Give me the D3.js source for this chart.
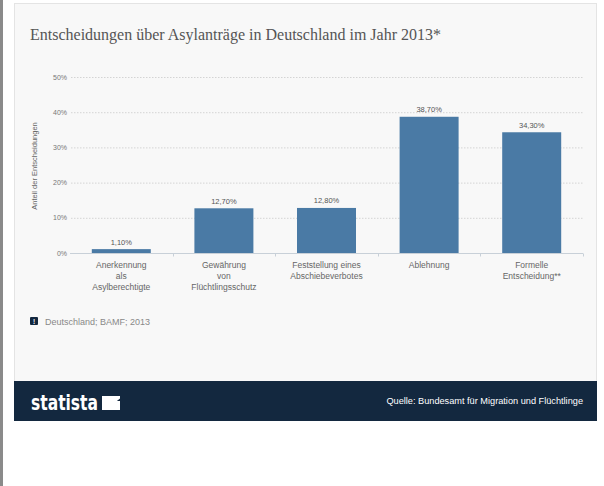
<!DOCTYPE html>
<html>
<head>
<meta charset="utf-8">
<script src="https://cdn.jsdelivr.net/npm/d3@7"></script>
<style>
  body { margin: 0; background: #fff; }
  svg { display: block; }
</style>
</head>
<body>
<div id="vis"></div>
<script>
var categories = [
  ["Anerkennung", "als", "Asylberechtigte"],
  ["Gewährung", "von", "Flüchtlingsschutz"],
  ["Feststellung eines", "Abschiebeverbotes"],
  ["Ablehnung"],
  ["Formelle", "Entscheidung**"]
];
var values = [1.10, 12.70, 12.80, 38.70, 34.30];
var y_ticks = [0, 10, 20, 30, 40, 50];

var title = "Entscheidungen über Asylanträge in Deutschland im Jahr 2013*";
var y_label = "Anteil der Entscheidungen";
var legend_text = "Deutschland; BAMF; 2013";
var source_text = "Quelle: Bundesamt für Migration und Flüchtlinge";

var bar_color = "#4a7aa5";
var navy = "#13283f";

var width = 604, height = 486;

var svg = d3.select('#vis')
    .append('svg')
    .attr('width', width)
    .attr('height', height);

// left grey line
svg.append('rect')
    .attr('x', 0).attr('y', 0)
    .attr('width', 3).attr('height', height)
    .attr('fill', '#8a8a8a');

// card
svg.append('rect')
    .attr('x', 14.5).attr('y', 3.5)
    .attr('width', 582).attr('height', 417)
    .attr('fill', '#f8f8f8')
    .attr('stroke', '#e4e4e4');

svg.append('text')
    .attr('x', 30).attr('y', 40)
    .style('font-family', '"Liberation Serif", serif')
    .style('font-size', '16px')
    .style('fill', '#555')
    .text(title);

var x_scale = d3.scaleBand()
    .domain(d3.range(values.length))
    .range([70, 583])
    .paddingInner(0.425)
    .paddingOuter(0.2125);

var y_scale = d3.scaleLinear()
    .domain([0, 50])
    .range([253, 77]);

// gridlines
svg.append('g')
    .selectAll('line')
    .data(y_ticks.slice(1))
    .enter()
    .append('line')
    .attr('x1', 71).attr('x2', 583)
    .attr('y1', function(d) { return y_scale(d) + 0.5; })
    .attr('y2', function(d) { return y_scale(d) + 0.5; })
    .attr('stroke', '#d4d4d4')
    .attr('stroke-dasharray', '1.5,1.5');

// y tick labels
svg.append('g')
    .selectAll('text')
    .data(y_ticks)
    .enter()
    .append('text')
    .attr('x', 67)
    .attr('y', function(d) { return y_scale(d) + 2.5; })
    .attr('text-anchor', 'end')
    .style('font-family', 'Arial, "Liberation Sans", sans-serif')
    .style('font-size', '7px')
    .style('fill', '#777')
    .text(function(d) { return d + '%'; });

// y axis label
svg.append('text')
    .attr('transform', 'translate(37,166) rotate(-90)')
    .attr('text-anchor', 'middle')
    .style('font-family', 'Arial, "Liberation Sans", sans-serif')
    .style('font-size', '7.5px')
    .style('fill', '#666')
    .text(y_label);

// x axis
var x_axis = d3.axisBottom(x_scale)
    .tickSize(0)
    .tickFormat('');
var ax = svg.append('g')
    .attr('transform', 'translate(0,253.5)')
    .call(x_axis);
ax.select('.domain').remove();
ax.append('line')
    .attr('x1', 70).attr('x2', 583)
    .attr('stroke', '#c8d0d8');
ax.selectAll('.sep')
    .data(d3.range(1, values.length + 1))
    .enter()
    .append('line')
    .attr('class', 'sep')
    .attr('x1', function(d) { return Math.round(70 + d * x_scale.step()) + 0.5; })
    .attr('x2', function(d) { return Math.round(70 + d * x_scale.step()) + 0.5; })
    .attr('y1', 0).attr('y2', 3)
    .attr('stroke', '#c8d0d8');

// bars
svg.selectAll('.bar')
    .data(values)
    .enter()
    .append('rect')
    .attr('class', 'bar')
    .attr('x', function(d, i) { return x_scale(i); })
    .attr('width', x_scale.bandwidth())
    .attr('y', function(d) { return y_scale(d); })
    .attr('height', function(d) { return 253 - y_scale(d); })
    .attr('fill', bar_color);

// value labels
svg.selectAll('.val')
    .data(values)
    .enter()
    .append('text')
    .attr('class', 'val')
    .attr('x', function(d, i) { return x_scale(i) + x_scale.bandwidth() / 2; })
    .attr('y', function(d) { return y_scale(d) - 4.5; })
    .attr('text-anchor', 'middle')
    .style('font-family', 'Arial, "Liberation Sans", sans-serif')
    .style('font-size', '7.5px')
    .style('fill', '#555')
    .text(function(d) { return d.toFixed(2).replace('.', ',') + '%'; });

// category labels
var cat = svg.selectAll('.cat')
    .data(categories)
    .enter()
    .append('text')
    .attr('class', 'cat')
    .attr('text-anchor', 'middle')
    .style('font-family', 'Arial, "Liberation Sans", sans-serif')
    .style('font-size', '8.5px')
    .style('fill', '#666');
cat.selectAll('tspan')
    .data(function(d, i) { return d.map(function(t) { return {t: t, i: i}; }); })
    .enter()
    .append('tspan')
    .attr('x', function(d) { return x_scale(d.i) + x_scale.bandwidth() / 2; })
    .attr('y', function(d, j) { return 268 + j * 11; })
    .text(function(d) { return d.t; });

// legend
svg.append('rect')
    .attr('x', 30).attr('y', 317)
    .attr('width', 8).attr('height', 8)
    .attr('rx', 1)
    .attr('fill', navy);
svg.append('text')
    .attr('x', 34).attr('y', 323.5)
    .attr('text-anchor', 'middle')
    .style('font-family', 'Arial, sans-serif')
    .style('font-size', '6.5px')
    .style('font-weight', 'bold')
    .style('fill', '#fff')
    .text('!');
svg.append('text')
    .attr('x', 45).attr('y', 324.5)
    .style('font-family', 'Arial, "Liberation Sans", sans-serif')
    .style('font-size', '9px')
    .style('fill', '#888')
    .text(legend_text);

// footer
svg.append('rect')
    .attr('x', 14).attr('y', 381)
    .attr('width', 583).attr('height', 40)
    .attr('fill', navy);
svg.append('text')
    .attr('x', 31).attr('y', 410)
    .attr('textLength', 67)
    .attr('lengthAdjust', 'spacingAndGlyphs')
    .style('font-family', '"Liberation Sans Narrow", "DejaVu Sans Condensed", sans-serif')
    .style('font-size', '21px')
    .style('font-weight', 'bold')
    .style('fill', '#fff')
    .text('statista');
// logo mark
svg.append('path')
    .attr('d', 'M102,396 h18 v2.5 l-12.5,10 h-5.5 z M120,401 v9 h-18 v-1.5 l12,-7.5 z')
    .attr('fill', '#fff');
svg.append('text')
    .attr('x', 583).attr('y', 404)
    .attr('text-anchor', 'end')
    .style('font-family', 'Arial, "Liberation Sans", sans-serif')
    .style('font-size', '9.2px')
    .style('fill', '#fff')
    .text(source_text);
</script>
</body>
</html>
